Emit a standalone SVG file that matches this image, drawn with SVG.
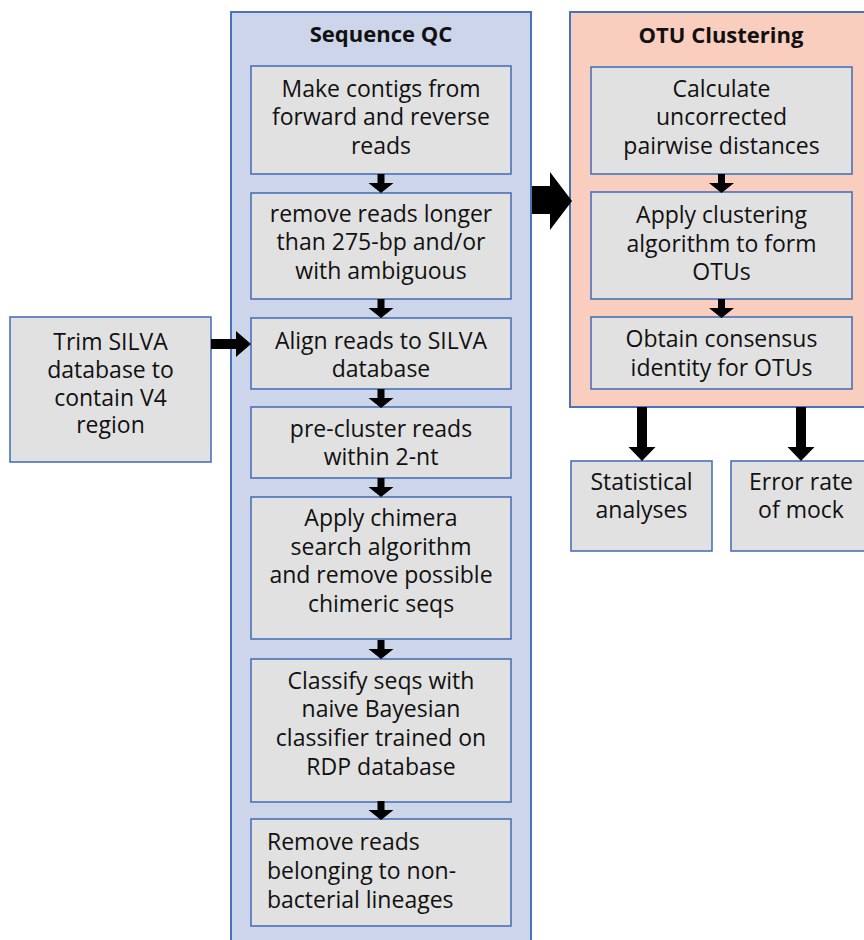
<svg xmlns="http://www.w3.org/2000/svg" xmlns:xlink="http://www.w3.org/1999/xlink" width="864" height="940" viewBox="0 0 864 940">
<style>
.cq{fill:#cdd5ea;stroke:#4a72b8;stroke-width:2}
.co{fill:#f9cebf;stroke:#4a72b8;stroke-width:2}
.nd{fill:#e1e1e1;stroke:#4a72b8;stroke-width:1.6}
.t{font-family:"Open Sans","Liberation Sans",sans-serif;font-size:23px;fill:#111;text-anchor:middle}
.tl{text-anchor:start}
.h{font-family:"Open Sans","Liberation Sans",sans-serif;font-size:22px;font-weight:bold;fill:#111;text-anchor:middle}
.ar{fill:#000}
</style>
<defs>
<path id="sd" d="M-3.5,0 H3.5 V9 H12.5 L0,19 L-12.5,9 H-3.5 Z"/>
<path id="ld" d="M-5,0 H5 V40 H13.5 L0,54 L-13.5,40 H-5 Z"/>
</defs>
<rect width="864" height="940" fill="#fff"/>

<g id="seqqc">
<rect class="cq" x="231" y="12" width="300" height="940"/>
<text class="h" x="381" y="42">Sequence QC</text>
</g>
<g id="otu">
<rect class="co" x="570" y="12" width="310" height="395"/>
<text class="h" x="721" y="43">OTU Clustering</text>
</g>

<g id="n1"><rect class="nd" x="251" y="66" width="260" height="108"/>
<text class="t" x="381" y="97">Make contigs from</text><text class="t" x="381" y="125">forward and reverse</text><text class="t" x="381" y="154">reads</text></g>
<g id="n2"><rect class="nd" x="251" y="193" width="260" height="106"/>
<text class="t" x="381" y="222">remove reads longer</text><text class="t" x="381" y="250">than 275-bp and/or</text><text class="t" x="381" y="279">with ambiguous</text></g>
<g id="n3"><rect class="nd" x="251" y="318" width="260" height="71"/>
<text class="t" x="381" y="349">Align reads to SILVA</text><text class="t" x="381" y="377">database</text></g>
<g id="n4"><rect class="nd" x="251" y="407" width="260" height="71"/>
<text class="t" x="381" y="437">pre-cluster reads</text><text class="t" x="381" y="465">within 2-nt</text></g>
<g id="n5"><rect class="nd" x="251" y="497" width="260" height="142"/>
<text class="t" x="381" y="526">Apply chimera</text><text class="t" x="381" y="555">search algorithm</text><text class="t" x="381" y="583">and remove possible</text><text class="t" x="381" y="612">chimeric seqs</text></g>
<g id="n6"><rect class="nd" x="251" y="659" width="260" height="143"/>
<text class="t" x="381" y="689">Classify seqs with</text><text class="t" x="381" y="717">naive Bayesian</text><text class="t" x="381" y="746">classifier trained on</text><text class="t" x="381" y="775">RDP database</text></g>
<g id="n7"><rect class="nd" x="251" y="819" width="260" height="107"/>
<text class="t tl" x="267" y="850">Remove reads</text><text class="t tl" x="267" y="879">belonging to non-</text><text class="t tl" x="267" y="908">bacterial lineages</text></g>

<g id="trim"><rect class="nd" x="10" y="317" width="201" height="145"/>
<text class="t" x="110.5" y="350">Trim SILVA</text><text class="t" x="110.5" y="378">database to</text><text class="t" x="110.5" y="406">contain V4</text><text class="t" x="110.5" y="433">region</text></g>

<g id="o1"><rect class="nd" x="591" y="67" width="261" height="107"/>
<text class="t" x="721.5" y="97">Calculate</text><text class="t" x="721.5" y="125">uncorrected</text><text class="t" x="721.5" y="154">pairwise distances</text></g>
<g id="o2"><rect class="nd" x="591" y="192" width="261" height="107"/>
<text class="t" x="721.5" y="223">Apply clustering</text><text class="t" x="721.5" y="252">algorithm to form</text><text class="t" x="721.5" y="280">OTUs</text></g>
<g id="o3"><rect class="nd" x="591" y="317" width="261" height="72"/>
<text class="t" x="721.5" y="347">Obtain consensus</text><text class="t" x="721.5" y="376">identity for OTUs</text></g>

<g id="stat"><rect class="nd" x="571" y="461" width="141" height="90"/>
<text class="t" x="641.5" y="490">Statistical</text><text class="t" x="641.5" y="518">analyses</text></g>
<g id="err"><rect class="nd" x="731" y="461" width="140" height="90"/>
<text class="t" x="801" y="490">Error rate</text><text class="t" x="801" y="518">of mock</text></g>

<g id="connectors" class="ar">
<use xlink:href="#sd" x="381" y="174"/>
<use xlink:href="#sd" x="381" y="299"/>
<use xlink:href="#sd" x="381" y="389"/>
<use xlink:href="#sd" x="381" y="478"/>
<use xlink:href="#sd" x="381" y="640"/>
<use xlink:href="#sd" x="381" y="801"/>
<use xlink:href="#sd" x="721.5" y="174"/>
<use xlink:href="#sd" x="721.5" y="299"/>
<use xlink:href="#ld" x="642" y="407"/>
<use xlink:href="#ld" x="801" y="407"/>
<path d="M211,339 H236 V331 L251,344 L236,357 V349 H211 Z"/>
<path d="M532,186 H550 V172 L572,201 L550,230 V214 H532 Z"/>
</g>
</svg>
